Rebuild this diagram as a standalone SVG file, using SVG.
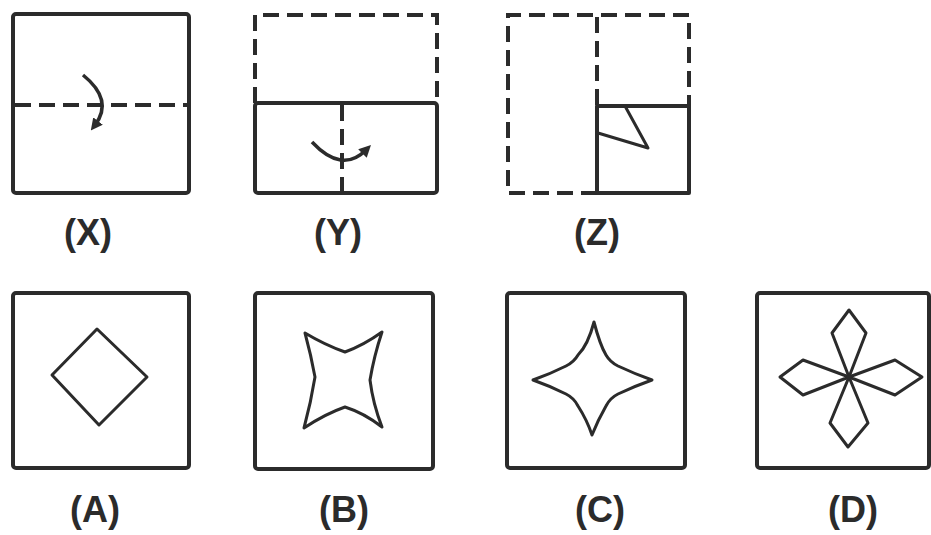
<svg xmlns="http://www.w3.org/2000/svg" width="931" height="535" viewBox="0 0 931 535">
<style>
.box{fill:none;stroke:#2b2b2b;stroke-width:4;stroke-linejoin:round}
.dash{fill:none;stroke:#2b2b2b;stroke-width:4;stroke-dasharray:16 8}
.shape{fill:none;stroke:#2b2b2b;stroke-width:3;stroke-linejoin:round}
.lbl{font-family:"Liberation Sans",Arial,sans-serif;font-weight:bold;font-size:36px;fill:#2b2b2b;text-anchor:middle}
.arr{fill:none;stroke:#2b2b2b;stroke-width:3.5}
</style>
<defs>
<marker id="ah" markerWidth="12" markerHeight="12" refX="5" refY="6" orient="auto" markerUnits="userSpaceOnUse" viewBox="0 0 12 12">
<path d="M0,0 L12,6 L0,12 Z" fill="#2b2b2b"/>
</marker>
</defs>
<rect width="931" height="535" fill="#ffffff"/>
<g id="X">
<rect class="box" x="13" y="14" width="176" height="179" rx="3"/>
<line class="dash" x1="15" y1="105" x2="187" y2="105" stroke-dasharray="20 10"/>
<path class="arr" d="M83,75 Q114,100 95,125" marker-end="url(#ah)"/>
<text class="lbl" x="88" y="245">(X)</text>
</g>
<g id="Y">
<path class="dash" d="M255,103 L255,15 L437,15 L437,103"/>
<rect class="box" x="255" y="103" width="182" height="90" rx="3"/>
<line class="dash" x1="342" y1="105" x2="342" y2="191" stroke-dasharray="12 7"/>
<path class="arr" d="M312,142 Q342,174 366,150" marker-end="url(#ah)"/>
<text class="lbl" x="338" y="245">(Y)</text>
</g>
<g id="Z">
<path class="dash" d="M597,193 L508,193 L508,15 L689,15 L689,106"/>
<line class="dash" x1="597" y1="17" x2="597" y2="106"/>
<rect class="box" x="597" y="106" width="92" height="87"/>
<polyline class="shape" points="625,106 648,148 598,133"/>
<text class="lbl" x="597" y="245">(Z)</text>
</g>
<g id="A">
<rect class="box" x="13" y="293" width="176" height="175" rx="3"/>
<path class="shape" d="M97,329 L147,377 L99,425 L52,375 Z"/>
<text class="lbl" x="95" y="522">(A)</text>
</g>
<g id="B">
<rect class="box" x="255" y="293" width="178" height="176" rx="3"/>
<path class="shape" d="M305,333 Q325,345 345,352 Q364,345 382,332 Q374,356 370,380 Q373,404 382,427 Q364,413 345,407 Q325,414 304,428 Q311,402 315,377 Q311,355 305,333 Z"/>
<text class="lbl" x="344" y="522">(B)</text>
</g>
<g id="C">
<rect class="box" x="507" y="293" width="178" height="175" rx="3"/>
<path class="shape" d="M594,322 Q600,345 606,355 Q610,362 618,366 Q635,374 652,380 Q635,386 618,394 Q610,398 606,406 Q598,420 592,435 Q587,420 578,406 Q574,398 566,394 Q550,386 533,380 Q550,374 566,366 Q574,362 578,355 Q588,345 594,322 Z"/>
<text class="lbl" x="600" y="522">(C)</text>
</g>
<g id="D">
<rect class="box" x="757" y="293" width="172" height="175" rx="3"/>
<path class="shape" d="M849,377 L832,333 L849,310 L866,333 Z"/>
<path class="shape" d="M849,377 L830,423 L848,447 L868,423 Z"/>
<path class="shape" d="M849,377 L803,360 L780,377 L803,395 Z"/>
<path class="shape" d="M849,377 L895,360 L922,377 L895,395 Z"/>
<circle cx="849" cy="377" r="3" fill="#2b2b2b"/>
<text class="lbl" x="853" y="522">(D)</text>
</g>
</svg>
